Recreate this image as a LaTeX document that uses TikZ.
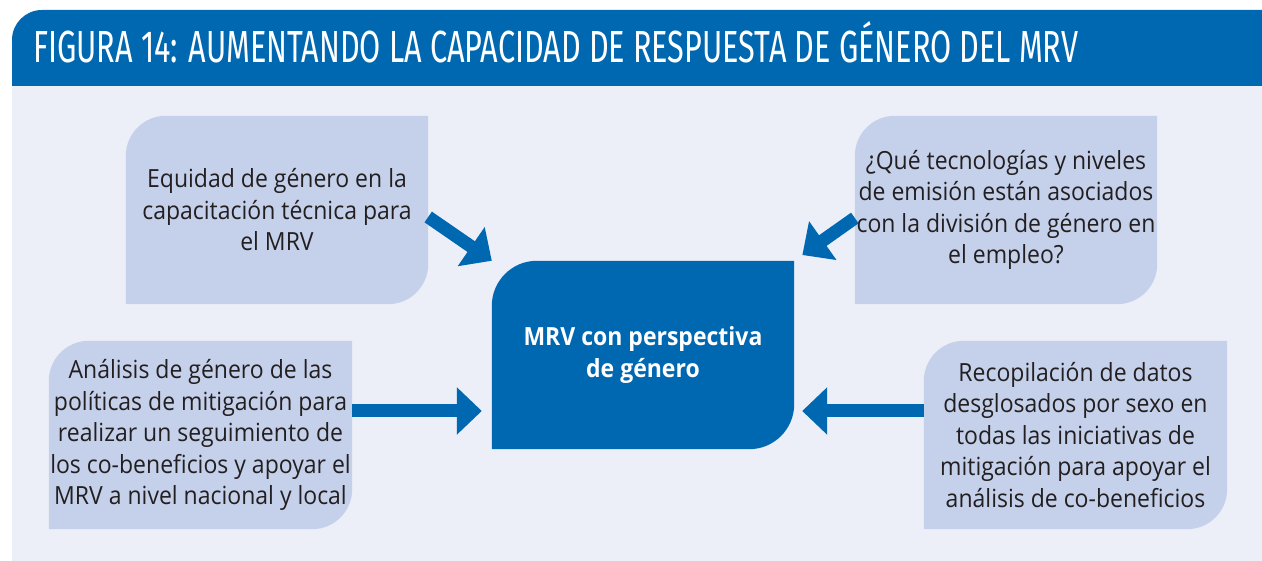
\documentclass[tikz,border=0pt]{standalone}
\usepackage{graphicx}
\usepackage{fontspec}
\setmainfont{Open Sans}
\newfontfamily\bodyfont[FakeStretch=0.92]{Open Sans}
\newfontfamily\titlefont{Fira Sans}
\usetikzlibrary{arrows.meta}
\definecolor{mblue}{HTML}{0067B1}
\definecolor{panelcol}{HTML}{ECEFF8}
\definecolor{boxfill}{HTML}{C5D1EB}
\definecolor{txt}{HTML}{231F20}
\pgfdeclarelayer{back}
\pgfdeclarelayer{mid}
\pgfsetlayers{back,mid,main}
\newcommand\leafshape[3]{%
  \fill[#3] (#1.south west) -- ([yshift=-#2]#1.north west)
    arc[start angle=180,end angle=90,radius=#2] -- (#1.north east)
    -- ([yshift=#2]#1.south east)
    arc[start angle=0,end angle=-90,radius=#2] -- cycle;}
\begin{document}
\begin{tikzpicture}[x=1pt,y=1pt,
  box/.style={minimum width=302pt, minimum height=188pt, inner sep=0pt,
    align=center, text=txt, font=\bodyfont\fontsize{25}{31.5}\selectfont},
  centerbox/.style={box, text=white, font=\bodyfont\bfseries\fontsize{25}{32}\selectfont},
  arr/.style={draw=mblue, line width=13pt, -{Triangle[length=25pt,width=46pt]}}]
\useasboundingbox (0,0) rectangle (1262,561);
\begin{pgfonlayer}{back}
  \fill[panelcol] (12,0) rectangle (1262,475);
  \fill[mblue] (12,475) -- (12,521) arc[start angle=180,end angle=90,radius=30]
    -- (1262,551) -- (1262,475) -- cycle;
\end{pgfonlayer}
\node[anchor=base west, inner sep=0pt, text=white,
  font=\titlefont\fontsize{45}{45}\selectfont] (title) at (33,498)
  {\resizebox{1045pt}{\height}{FIGURA 14: AUMENTANDO LA CAPACIDAD DE RESPUESTA DE GÉNERO DEL MRV}};
\node[box] (TL) at (277,351) {Equidad de género en la\\capacitación técnica para\\el MRV};
\node[box] (TR) at (1006,351) {¿Qué tecnologías y niveles\\de emisión están asociados\\con la división de género en\\el empleo?};
\node[box, minimum width=303pt] (BL) at (200.5,126) {Análisis de género de las\\políticas de mitigación para\\realizar un seguimiento de\\los co-beneficios y apoyar el\\MRV a nivel nacional y local};
\node[box, minimum width=303pt] (BR) at (1075.5,126) {Recopilación de datos\\desglosados por sexo en\\todas las iniciativas de\\mitigación para apoyar el\\análisis de co-beneficios};
\node[centerbox] (C) at (643,206) {MRV con perspectiva\\de género};
\begin{pgfonlayer}{mid}
  \leafshape{TL}{40pt}{boxfill}
  \leafshape{TR}{40pt}{boxfill}
  \leafshape{BL}{40pt}{boxfill}
  \leafshape{BR}{40pt}{boxfill}
  \leafshape{C}{45pt}{mblue}
\end{pgfonlayer}
\draw[arr] ([yshift=-7pt]TL.east) -- (C.north west);
\draw[arr, shorten >=10pt] ([yshift=-8pt]TR.west) -- (C.north east);
\draw[arr, shorten >=10pt] ([yshift=24pt]BL.east) -- ([yshift=24pt]BL.east -| C.west);
\draw[arr, shorten >=8pt] ([yshift=24pt]BR.west) -- ([yshift=24pt]BR.west -| C.east);
\end{tikzpicture}
\end{document}
